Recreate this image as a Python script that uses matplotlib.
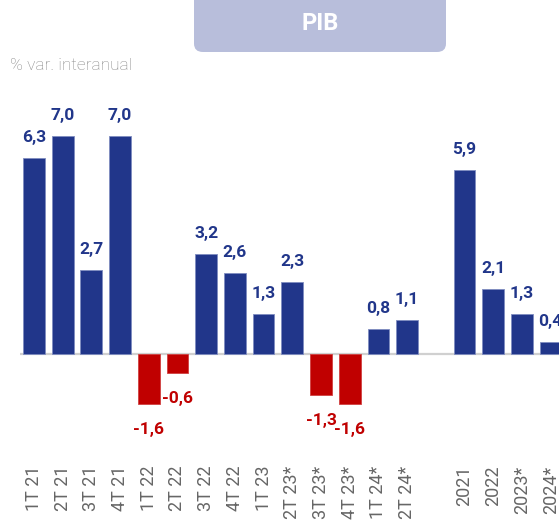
import matplotlib
matplotlib.use("Agg")
import matplotlib.pyplot as plt
from matplotlib.patches import FancyBboxPatch

plt.rcParams['font.family'] = ['Roboto', 'DejaVu Sans']

quarters = ["1T 21", "2T 21", "3T 21", "4T 21", "1T 22", "2T 22", "3T 22",
            "4T 22", "1T 23", "2T 23*", "3T 23*", "4T 23*", "1T 24*", "2T 24*"]
quarter_values = [6.3, 7.0, 2.7, 7.0, -1.6, -0.6, 3.2, 2.6, 1.3, 2.3, -1.3, -1.6, 0.8, 1.1]
years = ["2021", "2022", "2023*", "2024*"]
year_values = [5.9, 2.1, 1.3, 0.4]

BLUE = "#21368a"
RED = "#c00000"

labels = quarters + years
values = quarter_values + year_values
positions = list(range(len(quarters))) + [len(quarters) + 1 + i for i in range(len(years))]

fig = plt.figure(figsize=(5.59, 5.25), dpi=100)
ax = fig.add_axes([0.035, 0.177, 0.965, 0.624])

colors = [BLUE if v >= 0 else RED for v in values]
edges = ["#7f8cc0" if v >= 0 else "#d04040" for v in values]
ax.bar(positions, values, width=0.76, color=colors, edgecolor=edges, linewidth=0.6, zorder=2)

for p, v, c in zip(positions, values, colors):
    txt = f"{v:.1f}".replace(".", ",")
    if v >= 0:
        ax.annotate(txt, (p, v), xytext=(0, 11.5), textcoords="offset points",
                    ha="center", va="baseline", color=c, fontsize=12.5, fontweight="bold",
                    annotation_clip=False)
    else:
        ax.annotate(txt, (p, v), xytext=(0, -13), textcoords="offset points",
                    ha="center", va="top", color=c, fontsize=12.5, fontweight="bold",
                    annotation_clip=False)

ax.axhline(0, color="#d0d0d0", linewidth=1.6, zorder=1)
ax.set_xlim(-0.5, 18.29)
ax.set_ylim(-2.5, 8.0)
for s in ax.spines.values():
    s.set_visible(False)
ax.set_yticks([])
ax.set_xticks(positions)
ax.set_xticklabels(labels, rotation=90, fontsize=13, color="#666666")
ax.tick_params(axis="x", length=0, pad=24)

# title box
W, H = 559, 525
box = FancyBboxPatch((194 / W, 1 - 52 / H), (446 - 194) / W, 70 / H,
                     boxstyle="round,pad=0,rounding_size=0.016",
                     transform=fig.transFigure, facecolor="#b8bedb",
                     edgecolor="none", clip_on=False)
fig.patches.append(box)
fig.text(320 / W, 1 - 23 / H, "PIB", ha="center", va="center", color="white",
         fontsize=17, fontweight="bold")
fig.text(10 / W, 1 - 66 / H, "% var. interanual", ha="left", va="center",
         color="#888888", fontsize=12.5, fontweight="light")

fig.savefig("out.png", dpi=100)
